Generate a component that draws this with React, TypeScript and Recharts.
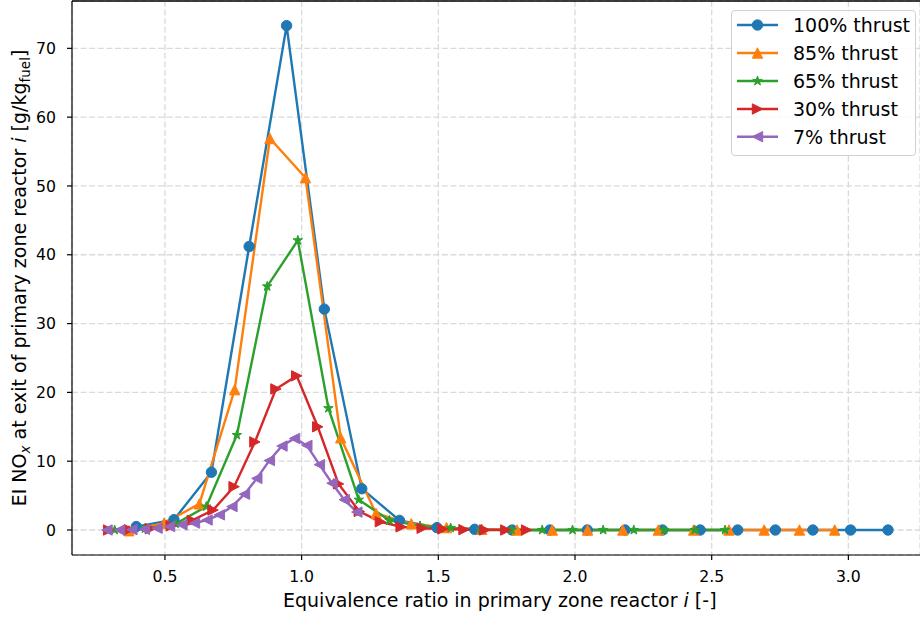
import React from 'react';
import { LineChart, Line, XAxis, YAxis, CartesianGrid, Legend, ReferenceLine, Label } from 'recharts';

// ---- data ----
const X_TICKS = [0.5, 1.0, 1.5, 2.0, 2.5, 3.0];
const Y_TICKS = [0, 10, 20, 30, 40, 50, 60, 70];

const phi100 = [0.395, 0.533, 0.670, 0.808, 0.945, 1.083, 1.220, 1.358, 1.495, 1.633, 1.770, 1.908, 2.045, 2.183, 2.320, 2.458, 2.595, 2.733, 2.870, 3.008, 3.145];
const ei100 = [0.5, 1.5, 8.4, 41.2, 73.3, 32.1, 6.0, 1.4, 0.35, 0.1, 0, 0, 0, 0, 0, 0, 0, 0, 0, 0, 0];

const phi85 = [0.368, 0.497, 0.626, 0.755, 0.884, 1.014, 1.143, 1.272, 1.401, 1.530, 1.659, 1.788, 1.917, 2.046, 2.175, 2.305, 2.434, 2.563, 2.692, 2.821, 2.950];
const ei85 = [-0.1, 1.0, 3.8, 20.4, 56.9, 51.2, 13.4, 2.4, 0.9, 0.35, 0.1, 0, 0, 0, 0, 0, 0, 0, 0, 0, 0];

const phi65 = [0.316, 0.427, 0.539, 0.651, 0.763, 0.874, 0.986, 1.098, 1.209, 1.321, 1.433, 1.545, 1.656, 1.768, 1.880, 1.991, 2.103, 2.215, 2.326, 2.438, 2.549];
const ei65 = [0, 0.2, 0.9, 3.4, 13.8, 35.4, 42.1, 17.7, 4.4, 1.4, 0.6, 0.3, 0.05, 0, 0, 0, 0, 0, 0, 0, 0];

const phi30 = [0.294, 0.370, 0.447, 0.523, 0.600, 0.676, 0.753, 0.829, 0.906, 0.982, 1.059, 1.135, 1.211, 1.288, 1.364, 1.441, 1.517, 1.594, 1.670, 1.747, 1.823];
const ei30 = [0, 0.05, 0.2, 0.6, 1.4, 2.9, 6.3, 12.8, 20.5, 22.4, 15.0, 6.7, 2.7, 1.2, 0.45, 0.25, 0.15, 0.05, 0, 0, 0];

const phi7 = [0.288, 0.334, 0.379, 0.425, 0.471, 0.517, 0.562, 0.608, 0.654, 0.699, 0.745, 0.791, 0.836, 0.882, 0.928, 0.974, 1.019, 1.065, 1.111, 1.156, 1.202];
const ei7 = [0, 0, 0.05, 0.1, 0.25, 0.5, 0.75, 1.0, 1.45, 2.2, 3.4, 5.2, 7.5, 10.1, 12.2, 13.3, 12.3, 9.5, 6.8, 4.4, 2.6];

const SERIES_NAMES = ['100% thrust', '85% thrust', '65% thrust', '30% thrust', '7% thrust'];
const SERIES_COLORS = ['#1f77b4', '#ff7f0e', '#2ca02c', '#d62728', '#9467bd'];
const SERIES_SHAPES = ['circle', 'up', 'star', 'right', 'left'];
const SERIES_X = [phi100, phi85, phi65, phi30, phi7];
const SERIES_Y = [ei100, ei85, ei65, ei30, ei7];

// ---- layout ----
const W = 920;
const H = 617;
const X_DOMAIN: [number, number] = [0.16, 3.262];
const Y_DOMAIN: [number, number] = [-3.633, 76.88];
const FONT = 'DejaVu Sans';

const series = SERIES_NAMES.map((name, i) => ({
  name,
  color: SERIES_COLORS[i],
  shape: SERIES_SHAPES[i],
  data: SERIES_X[i].map((x, j) => ({ x, y: SERIES_Y[i][j] })),
}));

function Marker({ shape, cx, cy, color }: { shape: string; cx: number; cy: number; color: string }) {
  if (cx == null || cy == null || isNaN(cx) || isNaN(cy)) return null;
  const s = 5.2;
  if (shape === 'circle') {
    return <circle cx={cx} cy={cy} r={5.2} fill={color} stroke={color} strokeWidth={1} />;
  }
  let pts = '';
  if (shape === 'up') pts = `${cx},${cy - s} ${cx - s},${cy + s} ${cx + s},${cy + s}`;
  else if (shape === 'right') pts = `${cx + s},${cy} ${cx - s},${cy - s} ${cx - s},${cy + s}`;
  else if (shape === 'left') pts = `${cx - s},${cy} ${cx + s},${cy - s} ${cx + s},${cy + s}`;
  else if (shape === 'star') {
    const ro = 5.0;
    const ri = 1.95;
    const arr: string[] = [];
    for (let k = 0; k < 10; k++) {
      const a = -Math.PI / 2 + (k * Math.PI) / 5;
      const r = k % 2 === 0 ? ro : ri;
      arr.push(`${cx + r * Math.cos(a)},${cy + r * Math.sin(a)}`);
    }
    pts = arr.join(' ');
  }
  return <polygon points={pts} fill={color} stroke={color} strokeWidth={1} strokeLinejoin="miter" />;
}

const makeDot = (shape: string, color: string) => (props: any) => (
  <Marker key={`m-${shape}-${props.index}`} shape={shape} cx={props.cx} cy={props.cy} color={color} />
);

const XAxisLabel = (props: any) => {
  const vb = props.viewBox || { x: 72, y: 555, width: 855, height: 62 };
  const cx = vb.x + (927.6 - 72) / 2;
  return (
    <text x={cx} y={vb.y + 52} textAnchor="middle" fontFamily={FONT} fontSize={19} fill="#000">
      Equivalence ratio in primary zone reactor <tspan fontStyle="italic">i</tspan> [-]
    </text>
  );
};

const YAxisLabel = () => {
  const cx = 26;
  const cy = 278;
  return (
    <text
      x={cx}
      y={cy}
      transform={`rotate(-90 ${cx} ${cy})`}
      textAnchor="middle"
      fontFamily={FONT}
      fontSize={19}
      fill="#000"
    >
      EI NO
      <tspan fontStyle="italic" fontSize={13.5} dy={4}>x</tspan>
      <tspan dy={-4}> at exit of primary zone reactor </tspan>
      <tspan fontStyle="italic">i</tspan>
      <tspan> [g/kg</tspan>
      <tspan fontSize={13.5} dy={4}>fuel</tspan>
      <tspan dy={-4}>]</tspan>
    </text>
  );
};

const LegendBox = () => {
  const rows = [15, 43, 71, 99, 126.7];
  return (
    <div
      style={{
        width: 185,
        height: 146,
        boxSizing: 'border-box',
        border: '1px solid #d0d0d0',
        borderRadius: 4,
        background: 'rgba(255,255,255,0.85)',
      }}
    >
      <svg width={185} height={146} style={{ position: 'absolute', left: 0, top: 0 }}>
        {series.map((s, i) => (
          <g key={s.name}>
            <line x1={6} x2={47} y1={rows[i]} y2={rows[i]} stroke={s.color} strokeWidth={2.4} />
            <Marker shape={s.shape} cx={26.5} cy={rows[i]} color={s.color} />
            <text x={62} y={rows[i] + 7} fontFamily={FONT} fontSize={19} fill="#000">
              {s.name}
            </text>
          </g>
        ))}
      </svg>
    </div>
  );
};

export default function App() {
  return (
    <div style={{ position: 'absolute', left: 0, top: 0, width: W, height: H, background: '#fff' }}>
      <LineChart width={W} height={H} margin={{ top: 1, right: 0, bottom: 0, left: 0 }}>
        <CartesianGrid stroke="#dadada" strokeWidth={1.3} strokeDasharray="6 2.6" />
        <XAxis
          dataKey="x"
          type="number"
          domain={X_DOMAIN}
          ticks={X_TICKS}
          allowDataOverflow
          height={62}
          tickFormatter={(v: number) => v.toFixed(1)}
          tick={{ fontFamily: FONT, fontSize: 15.7, fill: '#000' }}
          tickSize={5}
          tickMargin={11}
          axisLine={{ stroke: '#000', strokeWidth: 1.2 }}
          tickLine={{ stroke: '#000', strokeWidth: 1.2 }}
          label={<Label content={XAxisLabel} />}
        />
        <YAxis
          type="number"
          domain={Y_DOMAIN}
          ticks={Y_TICKS}
          allowDataOverflow
          width={72}
          tick={{ fontFamily: FONT, fontSize: 15.7, fill: '#000' }}
          tickSize={5}
          tickMargin={11}
          axisLine={{ stroke: '#000', strokeWidth: 1.2 }}
          tickLine={{ stroke: '#000', strokeWidth: 1.2 }}
          label={<Label content={YAxisLabel} />}
        />
        <ReferenceLine y={Y_DOMAIN[1]} stroke="#000" strokeWidth={1.4} />
        {series.map((s) => (
          <Line
            key={s.name}
            data={s.data}
            dataKey="y"
            name={s.name}
            type="linear"
            stroke={s.color}
            strokeWidth={2.4}
            dot={makeDot(s.shape, s.color)}
            activeDot={false}
            isAnimationActive={false}
          />
        ))}
        <Legend
          layout="vertical"
          align="center"
          verticalAlign="middle"
          wrapperStyle={{ left: 731, top: 10, width: 185, height: 146 }}
          content={() => <LegendBox />}
        />
      </LineChart>
    </div>
  );
}
